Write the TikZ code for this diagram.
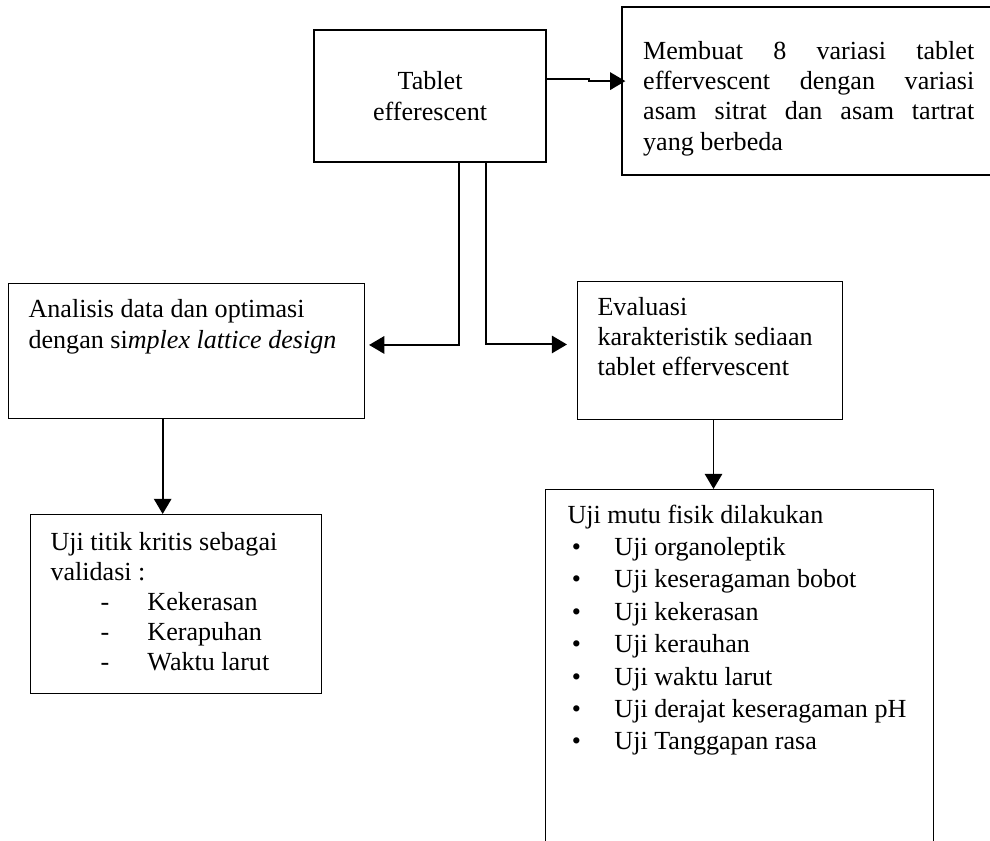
\documentclass[tikz,border=0pt]{standalone}
\usepackage{fontspec}
\setmainfont{Liberation Serif}
\usepackage{tikz}
\usetikzlibrary{arrows.meta}
\tikzset{
    flow-box/.style = {draw=black, fill=white, line width=0.5pt, rectangle, anchor=north west, inner ysep=0pt, inner xsep=9.2pt},
    flow-box-thick/.style = {flow-box, line width=1pt},
    flow-arrow/.style = {line width=0.9pt, -{Triangle[length=7pt,width=8pt]}},
}

\begin{document}
\begin{tikzpicture}[x=0.46pt, y=-0.46pt, font=\fontsize{12}{13.9}\selectfont]
\useasboundingbox (0,0) rectangle (990,841);
\node [flow-box-thick, inner sep=0pt, minimum width=106.7pt, minimum height=60.7pt, align=center,
    font=\fontsize{12}{14.7}\selectfont] (tablet) at (313,29) {Tablet\\efferescent};
\node [flow-box-thick, inner xsep=9.7pt] (variasi) at (621,6) {\begin{minipage}[t][77.3pt][t]{152.3pt}
    \tolerance=10000 \vspace*{14.4pt}\strut Membuat 8 variasi tablet\linebreak
    effervescent dengan variasi\linebreak
    asam sitrat dan asam tartrat\linebreak
    yang berbeda
\end{minipage}\hspace*{15pt}};
\node [flow-box] (analisis) at (8,283) {\begin{minipage}[t][62.1pt][t]{145.4pt}
    \raggedright \vspace*{6.1pt}\strut Analisis data dan optimasi\\
    dengan si\textit{mplex lattice design}
\end{minipage}};
\node [flow-box] (evaluasi) at (577,281) {\begin{minipage}[t][63.5pt][t]{103.5pt}
    \raggedright \vspace*{5.7pt}\strut Evaluasi\\
    karakteristik sediaan\\
    tablet effervescent
\end{minipage}};
\node [flow-box] (validasi) at (30,514) {\begin{minipage}[t][82.3pt][t]{115.5pt}
    \raggedright \vspace*{6.6pt}\strut Uji titik kritis sebagai\\
    validasi :\\
    \hspace*{23pt}\makebox[21.6pt][l]{-}Kekerasan\\
    \hspace*{23pt}\makebox[21.6pt][l]{-}Kerapuhan\\
    \hspace*{23pt}\makebox[21.6pt][l]{-}Waktu larut
\end{minipage}};
\node [flow-box, inner xsep=10.1pt] (ujimutu) at (545,489) {\begin{minipage}[t][175.3pt][t]{158.2pt}
    \fontsize{12}{14.9}\selectfont\raggedright \vspace*{5pt}\strut Uji mutu fisik dilakukan\\
    \hspace*{2pt}\makebox[19.6pt][l]{•}Uji organoleptik\\
    \hspace*{2pt}\makebox[19.6pt][l]{•}Uji keseragaman bobot\\
    \hspace*{2pt}\makebox[19.6pt][l]{•}Uji kekerasan\\
    \hspace*{2pt}\makebox[19.6pt][l]{•}Uji kerauhan\\
    \hspace*{2pt}\makebox[19.6pt][l]{•}Uji waktu larut\\
    \hspace*{2pt}\makebox[19.6pt][l]{•}Uji derajat keseragaman pH\\
    \hspace*{2pt}\makebox[19.6pt][l]{•}Uji Tanggapan rasa
\end{minipage}};
\draw [flow-arrow] ([yshift=7.8pt]tablet.east) -- ++(42,0) |- ([yshift=4.6pt,xshift=2pt]variasi.west);
\draw [flow-arrow, shorten >=1.8pt] ([xshift=13.3pt]tablet.south) |- ([yshift=2.8pt]analisis.east);
\draw [flow-arrow, shorten >=4.6pt] ([xshift=25.8pt]tablet.south) |- ([yshift=2.8pt]evaluasi.west);
\draw [flow-arrow] ([xshift=-11pt]analisis.south) -- ([xshift=-11pt]analisis.south |- validasi.north);
\draw [flow-arrow] ([xshift=1.6pt]evaluasi.south) -- ([xshift=1.6pt]evaluasi.south |- ujimutu.north);
\end{tikzpicture}
\end{document}
